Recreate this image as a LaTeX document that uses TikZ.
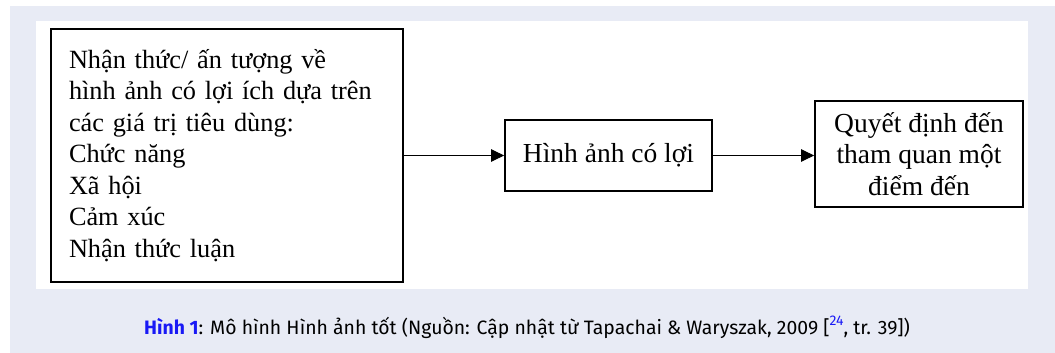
\documentclass[tikz,border=0pt]{standalone}
\usepackage{fontspec}
\setmainfont{Liberation Serif}
\newfontfamily\capfont{Fira Sans}
\usepackage{xcolor}
\usetikzlibrary{arrows.meta,positioning,calc}
\definecolor{panelbg}{RGB}{232,235,245}
\definecolor{capblue}{RGB}{25,25,245}

\begin{document}
\begin{tikzpicture}[x=1pt,y=-1pt,
    box/.style={draw=black,line width=1.8pt,inner sep=0pt,font=\fontsize{27.5}{31.5}\selectfont},
    flow/.style={-{Triangle[length=13pt,width=12.5pt]},line width=1pt}]
    % Frame and white panel
    \useasboundingbox (0,0) rectangle (1055,353);
    \fill[panelbg] (10,6) rectangle (1055,353);
    \fill[white] (36,21) rectangle (1028,289);

    % Boxes
    \node[box,minimum width=352pt,minimum height=253pt,text width=316pt,align=left,
        font=\fontsize{26.3}{31.5}\selectfont]
        (values) at (227,155.5)
        {Nhận thức/ ấn tượng về\\hình ảnh có lợi ích dựa trên\\các giá trị tiêu dùng:\\Chức năng\\Xã hội\\Cảm xúc\\Nhận thức luận};
    \node[box,minimum width=207pt,minimum height=71pt] (image) at (608.5,155.5) {Hình ảnh có lợi};
    \node[box,minimum width=208pt,minimum height=106pt,align=center] (visit) at (919,154)
        {Quyết định đến\\tham quan một\\điểm đến};

    % Arrows
    \draw[flow] (values.east |- image.west) -- (image.west);
    \draw[flow] (image.east) -- (image.east -| visit.west);

    % Caption
    \node[font=\capfont\fontsize{19.4}{22}\selectfont] (caption) at (527,327)
        {\textcolor{capblue}{\textbf{Hình 1}}: Mô hình Hình ảnh tốt (Nguồn: Cập nhật từ Tapachai \& Waryszak, 2009 [\raisebox{0.45em}{\fontsize{14}{14}\selectfont\textcolor{capblue}{24}}, tr. 39])};
\end{tikzpicture}
\end{document}
